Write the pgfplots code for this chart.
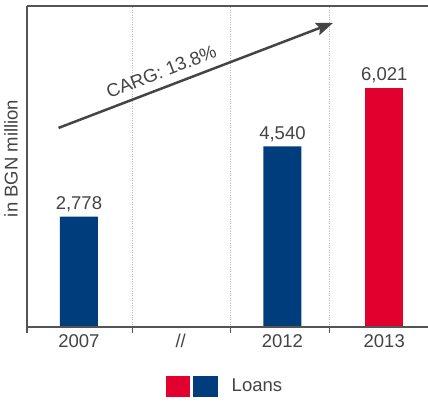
\documentclass[border=0pt]{standalone}
\usepackage{fontspec}
\setmainfont{Liberation Sans}
\usepackage{pgfplots}
\pgfplotsset{compat=1.18}
\usetikzlibrary{arrows.meta}
\definecolor{myblue}{HTML}{003D7C}
\definecolor{myred}{HTML}{E2002E}
\definecolor{txt}{HTML}{444444}
\definecolor{axl}{HTML}{555555}
\definecolor{grd}{HTML}{BBBBBB}
\definecolor{arr}{HTML}{454545}
\begin{document}
\begin{tikzpicture}[font=\fontsize{18.5}{22}\selectfont, text=txt]
\begin{axis}[
  name=ax,
  scale only axis,
  width=401pt, height=321pt,
  xmin=-0.51, xmax=3.43,
  ymin=0, ymax=8070,
  axis line style={draw=none},
  clip=false,
  ytick=\empty,
  xtick={0,1,2,3},
  xticklabels={2007,//,2012,2013},
  major tick length=0pt,
  xtick pos=bottom,
  extra x ticks={-0.51,0.53,1.49,2.46},
  extra x tick labels={},
  extra x tick style={grid=major, major grid style={grd, dotted, line width=0.9pt},
     major tick length=6pt, tick align=outside, major tick style={axl, line width=1.2pt}},
  xticklabel style={inner sep=0pt, anchor=north, yshift=-7pt, text=txt},
  legend style={at={(rel axis cs:0.347,-0.184)}, anchor=west, draw=none, fill=none, inner sep=0pt,
     /tikz/every odd column/.append style={column sep=12pt}},
  legend cell align=left,
  /pgf/number format/.cd, 1000 sep={,}, assume math mode=true
]
\addlegendimage{legend image code/.code={\fill[myred] (0pt,-10pt) rectangle (23pt,10pt); \fill[myblue] (27pt,-10pt) rectangle (51pt,10pt);}}
\addlegendentry{Loans}
\addplot[ybar, bar width=38pt, bar shift=0pt, fill=myblue, draw=none, forget plot,
  nodes near coords, every node near coord/.append style={text=txt, yshift=1pt}]
  coordinates {(0,2778) (2,4540)};
\addplot[ybar, bar width=38pt, bar shift=0pt, fill=myred, draw=none, forget plot,
  nodes near coords, every node near coord/.append style={text=txt, yshift=1pt}]
  coordinates {(3,6021)};
\draw[axl, line width=1.3pt] (rel axis cs:0,1) -- (rel axis cs:0,0) -- (rel axis cs:1,0);
\draw[axl, line width=1.3pt] (rel axis cs:0,1) -- (rel axis cs:1,1);
\draw[arr, line width=2.5pt, -{Stealth[length=17pt, width=13pt, inset=3pt]}] (axis cs:-0.2,5005) -- (axis cs:2.497,7646);
\node[rotate=21, text=txt] at (axis cs:0.81,6420) {CARG: 13.8\%};
\node[rotate=90, anchor=south, inner sep=0pt, text=txt] at (rel axis cs:-0.0224,0.525) {in BGN million};
\end{axis}
\pgfresetboundingbox
\path[use as bounding box] ([shift={(-27pt,-75pt)}]ax.south west) rectangle ([shift={(0pt,6pt)}]ax.north east);
\end{tikzpicture}
\end{document}
